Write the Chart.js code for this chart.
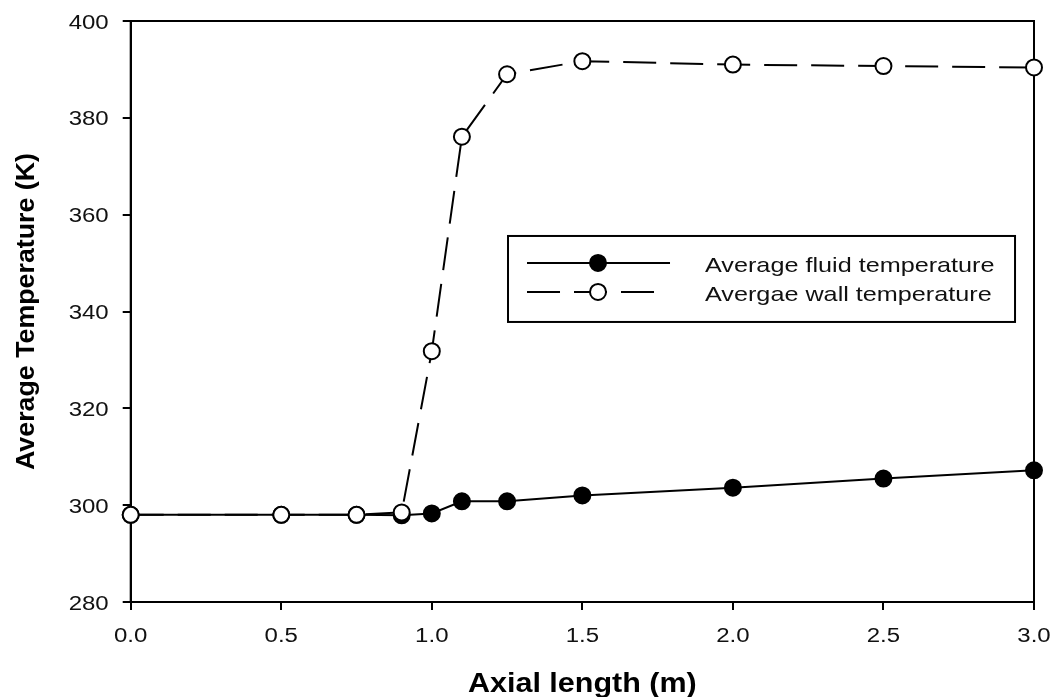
<!DOCTYPE html>
<html>
<head>
<meta charset="utf-8">
<script src="https://cdn.jsdelivr.net/npm/chart.js@4.4.0/dist/chart.umd.min.js"></script>
<style>
  html, body { margin: 0; padding: 0; background: #fff; }
  #wrap { width: 1058px; height: 697px; }
</style>
</head>
<body>
<div id="wrap"><canvas id="tempChart" width="1058" height="697"></canvas></div>
<script>
// axial positions (m)
var axial = [0, 0.5, 0.75, 0.9, 1.0, 1.1, 1.25, 1.5, 2.0, 2.5, 3.0];
// temperatures (K)
var fluidTemp = [298, 298, 298, 297.9, 298.3, 300.8, 300.8, 302.0, 303.6, 305.5, 307.2];
var wallTemp = [298, 298, 298, 298.5, 331.8, 376.1, 389.0, 391.7, 391.0, 390.7, 390.4];
var seriesNames = ["Average fluid temperature", "Avergae wall temperature"];
var xTicks = [0, 0.5, 1.0, 1.5, 2.0, 2.5, 3.0];
var yTicks = [280, 300, 320, 340, 360, 380, 400];
var xTitle = 'Axial length (m)';
var yTitle = 'Average Temperature (K)';

function toPoints(xs, ys) {
  var out = [];
  for (var i = 0; i < xs.length; i++) out.push({x: xs[i], y: ys[i]});
  return out;
}

var fontName = "'Liberation Sans', Arial, sans-serif";
var dashPattern = [33, 14];
var stretch = 1.2;   // the original lettering is wider than Arial

// text drawn a bit wider than normal
function wideText(c, str, x, y, align, sx) {
  var w = c.measureText(str).width * sx;
  var x0 = align === 'right' ? x - w : (align === 'center' ? x - w / 2 : x);
  c.save();
  c.translate(x0, y);
  c.scale(sx, 1);
  c.textAlign = 'left';
  c.textBaseline = 'alphabetic';
  c.fillText(str, 0, 0);
  c.restore();
}

// box around the plot area
var framePlugin = {
  id: 'frame',
  beforeDatasetsDraw: function(chart) {
    var a = chart.chartArea, c = chart.ctx;
    c.save();
    c.strokeStyle = '#000';
    c.lineWidth = 2;
    c.strokeRect(a.left, a.top, a.right - a.left, a.bottom - a.top);
    c.restore();
  }
};

// tick labels and axis titles
var labelPlugin = {
  id: 'axisText',
  afterDraw: function(chart) {
    var c = chart.ctx, a = chart.chartArea;
    var xs = chart.scales.x, ys = chart.scales.y;
    c.save();
    c.fillStyle = '#111';
    c.font = '20px ' + fontName;
    yTicks.forEach(function(v) {
      wideText(c, String(v), a.left - 22, ys.getPixelForValue(v) + 7.5, 'right', stretch);
    });
    xTicks.forEach(function(v) {
      wideText(c, v.toFixed(1), xs.getPixelForValue(v), a.bottom + 40, 'center', stretch);
    });
    c.fillStyle = '#000';
    c.font = 'bold 27px ' + fontName;
    wideText(c, xTitle, (a.left + a.right) / 2, a.bottom + 90, 'center', 1.13);
    c.save();
    c.translate(34, (a.top + a.bottom) / 2);
    c.rotate(-Math.PI / 2);
    c.font = 'bold 26px ' + fontName;
    wideText(c, yTitle, 0, 0, 'center', 1.03);
    c.restore();
    c.restore();
  }
};

// legend box inside the plot
var legendPlugin = {
  id: 'boxLegend',
  afterDraw: function(chart) {
    var a = chart.chartArea, c = chart.ctx;
    var w = a.right - a.left, h = a.bottom - a.top;
    var bx = a.left + w * 0.4177, by = a.top + h * 0.370;
    var bw = w * 0.5613, bh = h * 0.148;
    c.save();
    c.fillStyle = '#fff';
    c.fillRect(bx, by, bw, bh);
    c.strokeStyle = '#000';
    c.lineWidth = 2;
    c.strokeRect(bx, by, bw, bh);

    var rows = [by + bh * 0.314, by + bh * 0.651];
    var lx0 = bx + 19, lx1 = bx + 162, mx = bx + 90;
    for (var i = 0; i < 2; i++) {
      c.beginPath();
      c.setLineDash(i === 0 ? [] : dashPattern);
      c.lineWidth = 2;
      c.moveTo(lx0, rows[i]);
      c.lineTo(i === 0 ? lx1 : lx1 - 15, rows[i]);
      c.stroke();
      c.setLineDash([]);
      c.beginPath();
      c.arc(mx, rows[i], 8, 0, Math.PI * 2);
      c.fillStyle = i === 0 ? '#000' : '#fff';
      c.fill();
      c.stroke();
      c.fillStyle = '#111';
      c.font = '21px ' + fontName;
      wideText(c, seriesNames[i], bx + 197, rows[i] + 9, 'left', stretch);
    }
    c.restore();
  }
};

var ctx = document.getElementById("tempChart").getContext('2d');
var tempChart = new Chart(ctx, {
  type: 'line',
  data: {
    datasets: [{
      label: seriesNames[0],
      data: toPoints(axial, fluidTemp),
      borderColor: '#000',
      borderWidth: 2,
      backgroundColor: '#000',
      pointBackgroundColor: '#000',
      pointBorderColor: '#000',
      pointRadius: 8,
      pointBorderWidth: 2,
      tension: 0,
      clip: false,
      order: 2
    }, {
      label: seriesNames[1],
      data: toPoints(axial, wallTemp),
      borderColor: '#000',
      borderWidth: 2,
      borderDash: dashPattern,
      pointBackgroundColor: '#fff',
      pointBorderColor: '#000',
      pointRadius: 8,
      pointBorderWidth: 2,
      tension: 0,
      clip: false,
      order: 1
    }]
  },
  options: {
    responsive: false,
    animation: false,
    layout: { padding: { left: 0, right: 24, top: 21, bottom: 0 } },
    plugins: {
      legend: { display: false },
      tooltip: { enabled: false }
    },
    scales: {
      x: {
        type: 'linear',
        min: 0,
        max: 3,
        afterBuildTicks: function(scale) {
          scale.ticks = xTicks.map(function(v) { return {value: v}; });
        },
        afterFit: function(scale) { scale.height = 95; },
        grid: { drawOnChartArea: false, drawTicks: true, tickLength: 8, color: '#000', lineWidth: 2 },
        border: { display: true, color: '#000', width: 2 },
        ticks: { display: false }
      },
      y: {
        min: 280,
        max: 400,
        afterBuildTicks: function(scale) {
          scale.ticks = yTicks.map(function(v) { return {value: v}; });
        },
        afterFit: function(scale) { scale.width = 130.7; },
        grid: { drawOnChartArea: false, drawTicks: true, tickLength: 8, color: '#000', lineWidth: 2 },
        border: { display: true, color: '#000', width: 2 },
        ticks: { display: false }
      }
    }
  },
  plugins: [framePlugin, labelPlugin, legendPlugin]
});
</script>
</body>
</html>
